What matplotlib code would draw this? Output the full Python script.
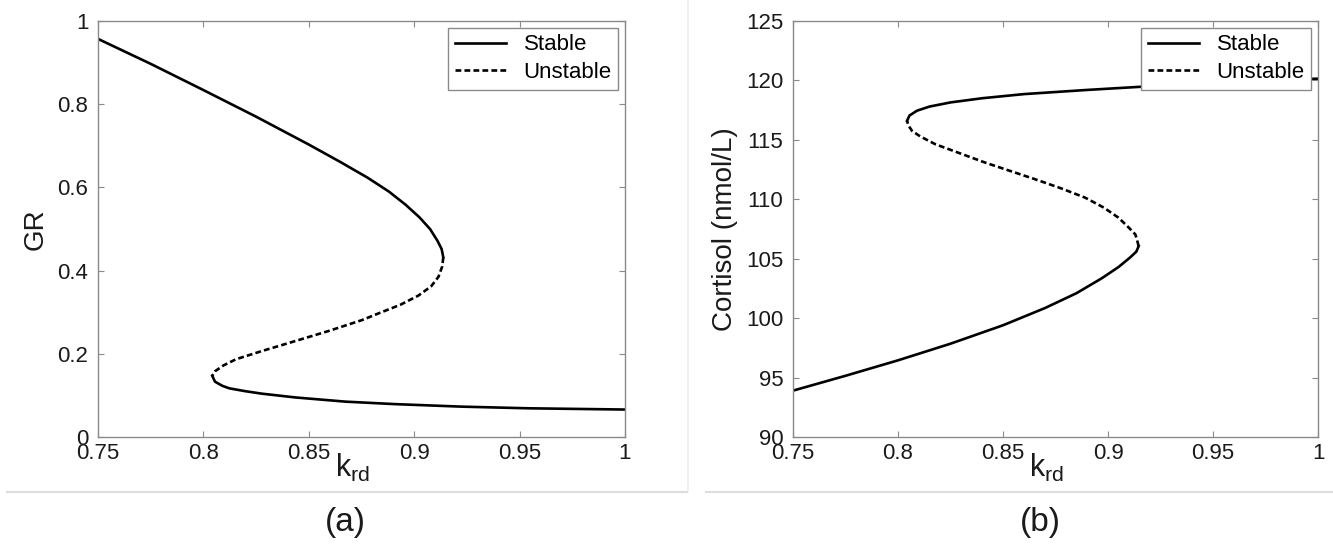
import numpy as np
import matplotlib
matplotlib.use('Agg')
import matplotlib.pyplot as plt
from matplotlib.lines import Line2D

plt.rcParams['font.family'] = ['Liberation Sans', 'DejaVu Sans']
plt.rcParams['mathtext.fontset'] = 'custom'
plt.rcParams['mathtext.rm'] = 'Liberation Sans'

# panel (a): GR vs k_rd
a_up_k = [0.75, 0.775, 0.80, 0.825, 0.85, 0.865, 0.878, 0.888, 0.896, 0.9025, 0.9075,
          0.911, 0.913, 0.9138]
a_up_gr = [0.957, 0.897, 0.834, 0.770, 0.703, 0.661, 0.623, 0.590, 0.558, 0.528, 0.500,
           0.472, 0.452, 0.432]
a_un_k = [0.9138, 0.9133, 0.9115, 0.908, 0.902, 0.8935, 0.8835, 0.8752, 0.8595, 0.8438,
          0.828, 0.8155, 0.8095, 0.8055, 0.8042]
a_un_gr = [0.432, 0.410, 0.385, 0.362, 0.340, 0.318, 0.298, 0.281, 0.255, 0.231,
           0.207, 0.187, 0.172, 0.158, 0.147]
a_lo_k = [0.8042, 0.8055, 0.809, 0.8123, 0.82, 0.828, 0.8438, 0.8674, 0.891, 0.9224, 0.954, 1.0]
a_lo_gr = [0.147, 0.133, 0.123, 0.117, 0.110, 0.104, 0.095, 0.085, 0.079, 0.073, 0.069, 0.066]

# panel (b): cortisol vs k_rd
b_lo_k = [0.75, 0.775, 0.80, 0.825, 0.85, 0.87, 0.885, 0.897, 0.905, 0.9105, 0.9135, 0.9146]
b_lo_c = [93.9, 95.15, 96.45, 97.85, 99.4, 100.85, 102.1, 103.35, 104.3, 105.1, 105.6, 106.06]
b_un_k = [0.9146, 0.9138, 0.913, 0.910, 0.905, 0.898, 0.8892, 0.878, 0.8654, 0.8416,
          0.8178, 0.8105, 0.8067, 0.805, 0.8043]
b_un_c = [106.06, 106.6, 107.05, 107.6, 108.45, 109.3, 110.13, 110.9, 111.68, 113.08,
          114.63, 115.3, 115.75, 116.2, 116.6]
b_up_k = [0.8043, 0.8055, 0.809, 0.815, 0.825, 0.84, 0.86, 0.89, 0.915, 0.95, 1.0]
b_up_c = [116.6, 117.05, 117.45, 117.8, 118.15, 118.5, 118.85, 119.2, 119.46, 119.8, 120.15]

xticks = [0.75, 0.8, 0.85, 0.9, 0.95, 1.0]
xticklabels = ['0.75', '0.8', '0.85', '0.9', '0.95', '1']
a_yticks = [0, 0.2, 0.4, 0.6, 0.8, 1.0]
a_yticklabels = ['0', '0.2', '0.4', '0.6', '0.8', '1']
b_yticks = [90, 95, 100, 105, 110, 115, 120, 125]

fig = plt.figure(figsize=(13.33, 5.52), dpi=100)
ax1 = fig.add_axes([98/1333, 1-437/552, 527/1333, 416/552])
ax2 = fig.add_axes([793/1333, 1-437/552, 525/1333, 416/552])

lw = 1.9
dash = (0, (2.2, 1.2))
txt = '#1a1a1a'


def style(ax):
    for s in ax.spines.values():
        s.set_color('#8a8a8a')
        s.set_linewidth(1.0)
    ax.tick_params(direction='in', length=4, width=0.8, color='#8a8a8a',
                   top=True, right=True, labelsize=16, labelcolor=txt)
    ax.tick_params(axis='x', pad=4)
    ax.tick_params(axis='y', pad=7)
    ax.set_xlim(0.75, 1.0)
    ax.set_xticks(xticks)
    ax.set_xticklabels(xticklabels)
    ax.set_xlabel(r'$\mathregular{k_{rd}}$', fontsize=22, color=txt)
    ax.xaxis.set_label_coords(0.483, -0.035, transform=ax.transAxes)
    ax.xaxis.label.set_va('top')
    handles = [Line2D([], [], color='k', lw=lw), Line2D([], [], color='k', lw=lw, ls=dash)]
    leg = ax.legend(handles, ['Stable', 'Unstable'], loc='upper right', fontsize=16,
                    fancybox=False, framealpha=1, edgecolor='#8a8a8a', borderaxespad=0.3,
                    handlelength=2.3, handletextpad=0.8, labelspacing=0.3,
                    borderpad=0.3)
    leg.get_frame().set_linewidth(1.0)
    leg.set_zorder(5)


ax1.plot(a_up_k, a_up_gr, color='k', lw=lw)
ax1.plot(a_un_k, a_un_gr, color='k', lw=lw, ls=dash)
ax1.plot(a_lo_k, a_lo_gr, color='k', lw=lw)
style(ax1)
ax1.set_ylim(0, 1)
ax1.set_yticks(a_yticks)
ax1.set_yticklabels(a_yticklabels)
ax1.set_ylabel('GR', fontsize=20, labelpad=6, color=txt)

ax2.plot(b_lo_k, b_lo_c, color='k', lw=lw)
ax2.plot(b_un_k, b_un_c, color='k', lw=lw, ls=dash)
ax2.plot(b_up_k, b_up_c, color='k', lw=lw)
style(ax2)
ax2.set_ylim(90, 125)
ax2.set_yticks(b_yticks)
ax2.set_ylabel('Cortisol (nmol/L)', fontsize=20, labelpad=6, color=txt)

# faint panel separators
sep = '#dddddd'
fig.add_artist(Line2D([7/1333, 687/1333], [1-492/552, 1-492/552], color=sep, lw=1.5))
fig.add_artist(Line2D([706/1333, 1333/1333], [1-492/552, 1-492/552], color=sep, lw=1.5))
fig.add_artist(Line2D([688/1333, 688/1333], [1.0, 1-490/552], color='#eeeeee', lw=1.2))

fig.text(345/1333, 1-522/552, '(a)', fontsize=24, ha='center', va='center', color=txt)
fig.text(1040/1333, 1-522/552, '(b)', fontsize=24, ha='center', va='center', color=txt)

fig.savefig('out.png', dpi=100)
